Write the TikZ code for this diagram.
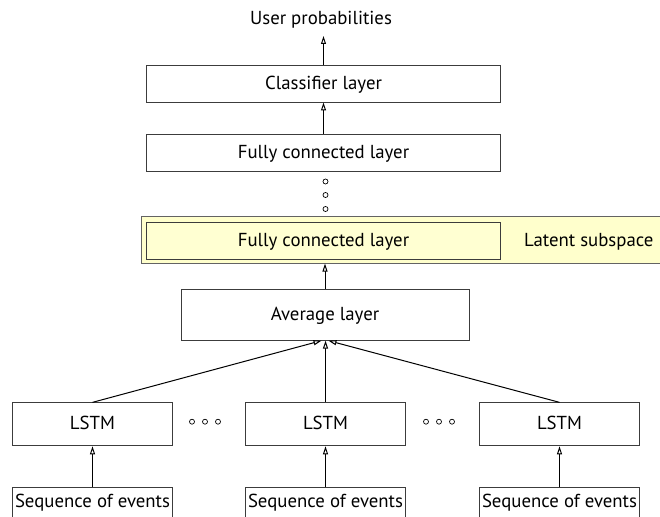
\documentclass[tikz,border=0pt]{standalone}
\usepackage{fontspec}
\setmainfont{PT Sans}
\usetikzlibrary{arrows.meta}
\definecolor{bandyellow}{RGB}{255,255,204}
\definecolor{inneryellow}{RGB}{255,255,210}
\definecolor{edgegray}{RGB}{60,60,60}
\begin{document}
\begin{tikzpicture}[x=1pt,y=-1pt,
  every node/.style={font=\fontsize{18.8}{22}\selectfont},
  layer/.style={draw=edgegray, line width=0.9pt, rectangle, inner sep=0pt,
    text height=13pt, text depth=2pt, fill=white},
  seqbox/.style={draw=edgegray, line width=0.9pt, rectangle, anchor=north,
    minimum width=160pt, inner xsep=1pt, inner ysep=6.7pt,
    text height=13pt, text depth=9pt, fill=white},
  arr/.style={line width=1pt, -{Triangle[length=8pt,width=5pt,fill=white]}},
  ring/.style={circle, draw, line width=0.7pt, minimum size=5pt, inner sep=0pt}]
\clip (0,0) rectangle (660,516);

% output side
\node[inner sep=0pt, anchor=base] (up) at (321,25) {User probabilities};
\node[layer, minimum width=354pt, minimum height=37pt] (cls) at (323.5,83.5) {Classifier layer};
\node[layer, minimum width=354pt, minimum height=37pt] (fc1) at (323.5,152.5) {Fully connected layer};

% vertical ellipsis
\node[ring] (v1) at (325.5,181.5) {};
\node[ring] (v2) at (325.5,195) {};
\node[ring] (v3) at (325.5,209) {};

% latent subspace band
\node[draw=edgegray!80, line width=0.9pt, fill=bandyellow, minimum width=530pt,
  minimum height=47pt, inner sep=0pt] (band) at (406,239.6) {};
\node[layer, fill=inneryellow, minimum width=354pt, minimum height=36.6pt] (fc2) at (323.5,241) {Fully connected layer};
\node[inner sep=0pt, anchor=base west] (lat) at (524,246.7) {Latent subspace};

% averaging
\node[layer, minimum width=288pt, minimum height=51pt] (avg) at (325,314.7) {Average layer};

% recurrent branches
\node[layer, minimum width=160pt, minimum height=43pt] (l1) at (92.5,424.3) {LSTM};
\node[layer, minimum width=160pt, minimum height=43pt] (l2) at (325.5,424.3) {LSTM};
\node[layer, minimum width=160pt, minimum height=43pt] (l3) at (559.5,424.3) {LSTM};

\node[ring] (h1) at (192,421.7) {};
\node[ring] (h2) at (205,421.7) {};
\node[ring] (h3) at (218,421.7) {};
\node[ring] (h4) at (426,421.7) {};
\node[ring] (h5) at (439,421.7) {};
\node[ring] (h6) at (452,421.7) {};

\node[seqbox] (s1) at (92.5,487.3) {Sequence of events};
\node[seqbox] (s2) at (325.5,487.3) {Sequence of events};
\node[seqbox] (s3) at (559.5,487.3) {Sequence of events};

% connectors
\draw[arr] (s1.north) -- (l1.south);
\draw[arr] (s2.north) -- (l2.south);
\draw[arr] (s3.north) -- (l3.south);
\draw[arr] (l1.north) -- ([xshift=-3.5pt]avg.south);
\draw[arr] (l2.north) -- (l2.north |- avg.south);
\draw[arr] (l3.north) -- ([xshift=3.5pt]avg.south);
\draw[arr] (avg.north) -- (avg.north |- band.south);
\draw[arr] (fc1.north) -- (cls.south);
\draw[arr, shorten >=7pt] (cls.north) -- (cls.north |- up.south);
\end{tikzpicture}
\end{document}
